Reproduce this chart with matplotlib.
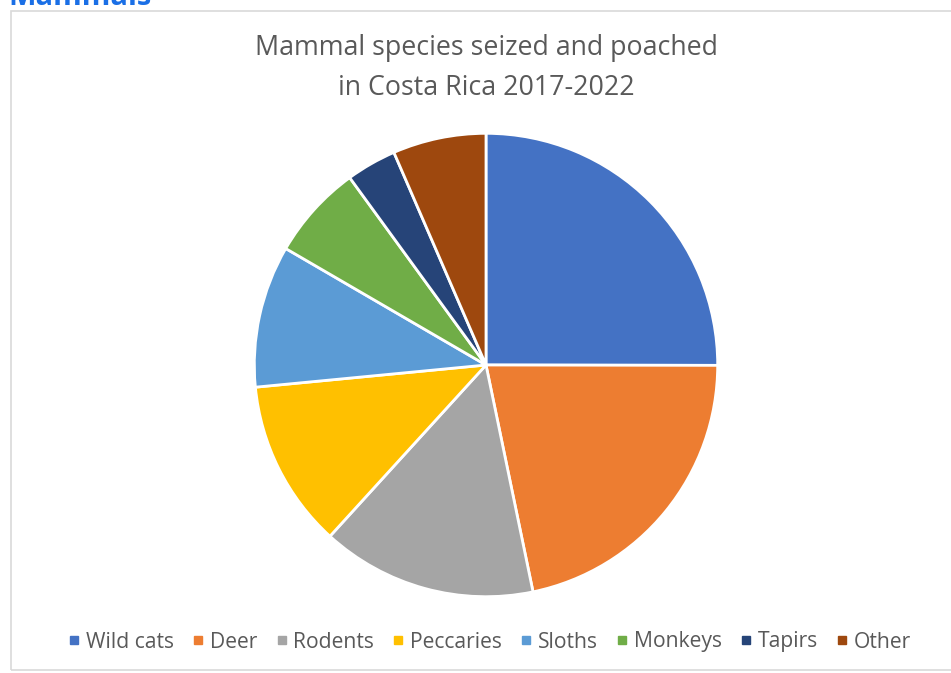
import matplotlib.pyplot as plt
from matplotlib.lines import Line2D
from matplotlib.patches import Rectangle

plt.rcParams['font.family'] = ['Open Sans', 'DejaVu Sans']

species = ['Wild cats', 'Deer', 'Rodents', 'Peccaries', 'Sloths', 'Monkeys', 'Tapirs', 'Other']
shares = [25.0, 21.7, 15.0, 11.7, 9.9, 6.6, 3.5, 6.5]
colors = ['#4472C4', '#ED7D31', '#A5A5A5', '#FFC000', '#5B9BD5', '#70AD47', '#264478', '#9E480E']

W, H = 951, 673
fig = plt.figure(figsize=(W / 100, H / 100), dpi=100)

# chart frame
fig.patches.append(Rectangle((11 / W, 3 / H), 1.2, (H - 14) / H, transform=fig.transFigure,
                             facecolor='none', edgecolor='#d9d9d9', linewidth=1.2, zorder=0))

# clipped heading from the page above
fig.text(8 / W, 1 - 5 / H, 'Mammals', color='#1a6fe6', fontsize=21, fontweight='bold',
         ha='left', va='baseline')

# pie
cx, cy, r = 486, 365, 234
ax = fig.add_axes([(cx - r) / W, (H - cy - r) / H, 2 * r / W, 2 * r / H])
ax.pie(shares, colors=colors, startangle=90, counterclock=False, radius=1,
       wedgeprops=dict(edgecolor='white', linewidth=2))
ax.set_xlim(-1.01, 1.01)
ax.set_ylim(-1.01, 1.01)
ax.set_aspect('equal')
ax.axis('off')

fig.text(486 / W, 1 - 68 / H, 'Mammal species seized and poached\nin Costa Rica 2017-2022',
         ha='center', va='center', fontsize=19.3, color='#595959', linespacing=1.55)

handles = [Line2D([], [], marker='s', linestyle='', color=c, markersize=6) for c in colors]
fig.legend(handles, species, loc='center', bbox_to_anchor=(490 / W, 1 - 642 / H), ncol=8,
           frameon=False, fontsize=15.2, labelcolor='#595959', handlelength=0.5,
           handletextpad=0.3, columnspacing=0.9)

fig.savefig('out.png', dpi=100)
